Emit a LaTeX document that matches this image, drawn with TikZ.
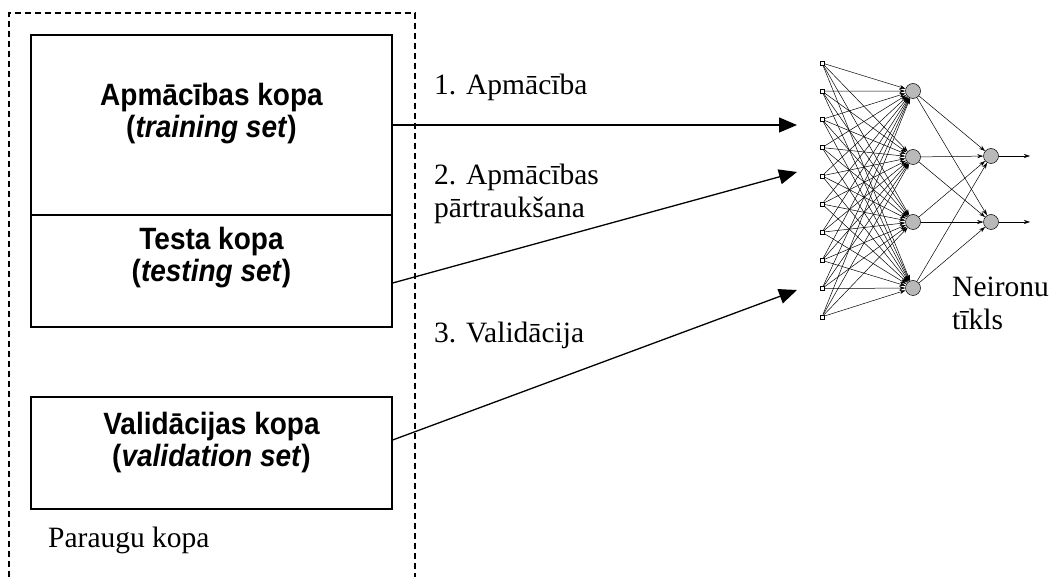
\documentclass[tikz,border=0pt]{standalone}
\usepackage{fontspec}
\setmainfont{Liberation Serif}
\newfontfamily\boxfont{Liberation Sans}
\usetikzlibrary{arrows.meta,calc}
% slightly taller set titles
\newcommand\tallline[1]{\scalebox{1}[1.1]{#1}}
\begin{document}
\begin{tikzpicture}[x=1pt,y=-1pt,
  setbox/.style={draw,line width=1.3pt,minimum width=361pt,inner sep=0pt},
  boxtext/.style={font=\boxfont\bfseries\fontsize{28}{32}\selectfont,align=center,inner sep=0pt},
  lbl/.style={font=\fontsize{29.5}{33}\selectfont,anchor=base west,inner sep=0pt},
  flow/.style={line width=1.3pt,-{Triangle[length=18pt,width=15pt]}},
  inp/.style={draw,line width=0.5pt,minimum size=4pt,inner sep=0pt,fill=white},
  neuron/.style={circle,draw,fill=gray!55,minimum size=15pt,inner sep=0pt,line width=0.5pt},
  syn/.style={line width=0.5pt,-{Stealth[length=6pt,width=4pt]}}
]
\useasboundingbox (0,0) rectangle (1050,577);

% sample set frame (open at the bottom)
\coordinate (fbl) at (9,577);
\coordinate (ftl) at (9,13);
\coordinate (ftr) at (415,13);
\coordinate (fbr) at (415,577);
\draw[line width=1.3pt,dash pattern=on 6pt off 4pt] (fbl) -- (ftl) -- (ftr) -- (fbr);
\node[lbl] (sample) at (48,547) {Paraugu kopa};

% the three subsets
\node[setbox,minimum height=180pt] (train) at (211.5,125) {};
\node[setbox,minimum height=112pt] (test) at (211.5,271) {};
\node[setbox,minimum height=112pt] (valid) at (211.5,453) {};
\node[boxtext] (trainlbl) at (211.5,114) {\tallline{Apmācības kopa}\\\tallline{(\textit{training set})}};
\node[boxtext] (testlbl) at (211.5,258) {\tallline{Testa kopa}\\\tallline{(\textit{testing set})}};
\node[boxtext] (validlbl) at (211.5,443) {\tallline{Validācijas kopa}\\\tallline{(\textit{validation set})}};

% neural network
\foreach \i in {0,...,9} {
  \node[inp] (in\i) at (822,{63+\i*28.2}) {};
}
\foreach \j/\y in {1/91,2/157,3/222,4/288} {
  \node[neuron] (h\j) at (913,\y) {};
}
\foreach \k/\y in {1/156,2/222} {
  \node[neuron] (o\k) at (991,\y) {};
  \coordinate (out\k) at (1030,\y);
}
\foreach \i in {0,...,9} {
  \foreach \j in {1,...,4} {
    \draw[syn] (in\i) -- (h\j);
  }
}
\foreach \j in {1,...,4} {
  \foreach \k in {1,2} {
    \draw[syn] (h\j) -- (o\k);
  }
}
\foreach \k in {1,2} {
  \draw[syn] (o\k) -- (out\k);
}
\node[lbl] (netlbla) at (952,297) {Neironu};
\node[lbl] (netlblb) at (952,330) {tīkls};

% flows from the subsets to the network
\coordinate (t1) at (797,125);
\coordinate (t2) at (797,172);
\coordinate (t3) at (797,290);
\draw[flow] (train.east) -- (t1);
\draw[flow] ($(test.east)+(0,12)$) -- (t2);
\draw[flow] ($(valid.east)+(0,-13)$) -- (t3);
\node[lbl] (step1) at (434,95) {1. Apmācība};
\node[lbl] (step2a) at (434,185) {2. Apmācības};
\node[lbl] (step2b) at (434,218) {pārtraukšana};
\node[lbl] (step3) at (434,343) {3. Validācija};
\end{tikzpicture}
\end{document}
